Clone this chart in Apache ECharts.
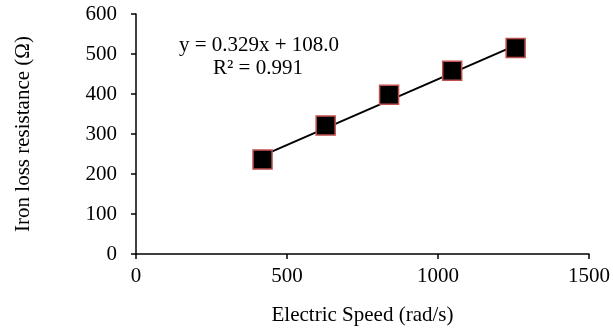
<!DOCTYPE html>
<html>
<head>
<meta charset="utf-8">
<script src="https://cdn.jsdelivr.net/npm/echarts@6/dist/echarts.min.js"></script>
<style>
  html, body { margin: 0; padding: 0; background: #fff; }
  #chart { width: 613px; height: 335px; }
</style>
</head>
<body>
<div id="chart"></div>
<script>
// measured points
const speed = [419, 628, 838, 1047, 1257];
const resistance = [236, 321, 398, 458, 515];

// linear trendline as printed on the chart
const slope = 0.329;
const intercept = 108.0;
const rSquared = 0.991;

const xTicks = [0, 500, 1000, 1500];
const yTicks = [0, 100, 200, 300, 400, 500, 600];

const font = 'Liberation Serif';
const fs = 21;

const trendData = [speed[0], speed[speed.length - 1]].map(x => [x, slope * x + intercept]);

const chart = echarts.init(document.getElementById('chart'));
const option = {
  animation: false,
  grid: { left: 136, right: 23, top: 14, bottom: 81 },
  xAxis: {
    type: 'value',
    min: xTicks[0],
    max: xTicks[xTicks.length - 1],
    interval: 500,
    name: 'Electric Speed (rad/s)',
    nameLocation: 'middle',
    nameGap: 51,
    nameTextStyle: { fontFamily: font, fontSize: fs, color: '#000' },
    axisLine: { onZero: false, lineStyle: { color: '#000', width: 1.5 } },
    axisTick: { show: true, length: 5, lineStyle: { color: '#000', width: 1.5 } },
    axisLabel: { margin: 12, fontFamily: font, fontSize: fs, color: '#000', formatter: v => String(v) },
    splitLine: { show: false }
  },
  yAxis: {
    type: 'value',
    min: yTicks[0],
    max: yTicks[yTicks.length - 1],
    interval: 100,
    name: 'Iron loss resistance (Ω)',
    nameLocation: 'middle',
    nameGap: 102,
    nameTextStyle: { fontFamily: font, fontSize: fs, color: '#000' },
    axisLine: { show: true, onZero: false, lineStyle: { color: '#000', width: 1.5 } },
    axisTick: { show: true, length: 5, lineStyle: { color: '#000', width: 1.5 } },
    axisLabel: { margin: 19, fontFamily: font, fontSize: fs, color: '#000', formatter: v => String(v) },
    splitLine: { show: false }
  },
  graphic: [
    {
      type: 'text',
      x: 259,
      y: 45,
      style: {
        text: 'y = ' + slope.toFixed(3) + 'x + ' + intercept.toFixed(1),
        align: 'center',
        verticalAlign: 'middle',
        fontFamily: font,
        fontSize: fs,
        fill: '#000'
      }
    },
    {
      type: 'text',
      x: 258,
      y: 68,
      style: {
        text: 'R² = ' + rSquared.toFixed(3),
        align: 'center',
        verticalAlign: 'middle',
        fontFamily: font,
        fontSize: fs,
        fill: '#000'
      }
    }
  ],
  series: [
    {
      type: 'line',
      data: trendData,
      symbol: 'none',
      lineStyle: { color: '#000', width: 2 },
      z: 2
    },
    {
      type: 'scatter',
      data: speed.map((x, i) => [x, resistance[i]]),
      symbol: 'rect',
      symbolSize: 19,
      itemStyle: { color: '#000', borderColor: '#c0504d', borderWidth: 1.5, opacity: 1 },
      z: 3
    }
  ]
};
chart.setOption(option);
</script>
</body>
</html>
